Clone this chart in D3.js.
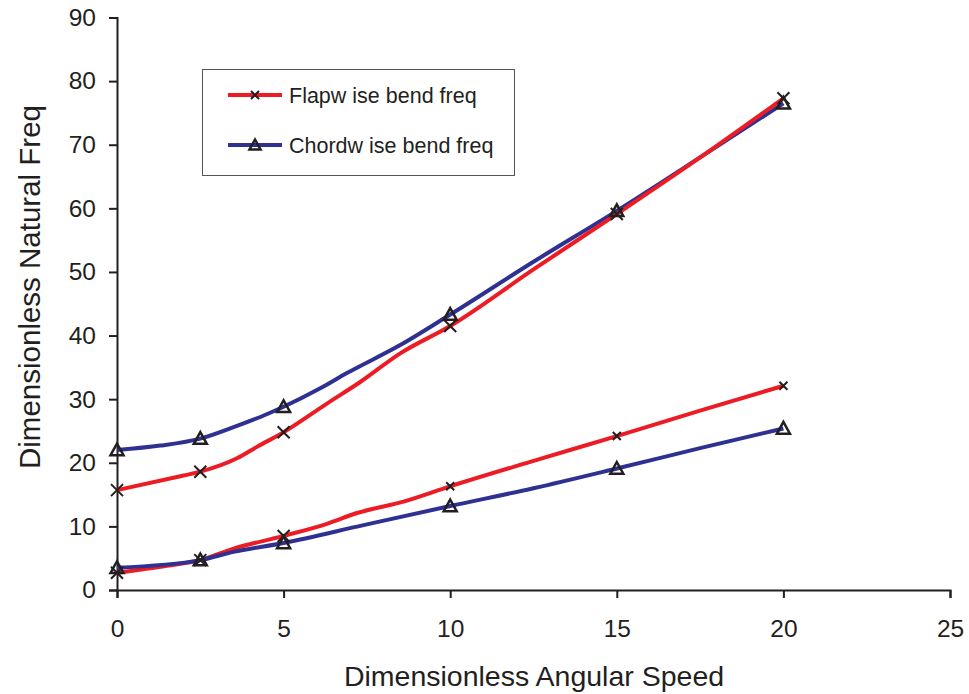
<!DOCTYPE html>
<html>
<head>
<meta charset="utf-8">
<script src="https://cdn.jsdelivr.net/npm/d3@7"></script>
<style>
  body { margin: 0; background: #fff; }
  svg { font-family: "Liberation Sans", Arial, sans-serif; }
</style>
</head>
<body>
<div id="chart"></div>
<script>
// marker positions
var markX = [0, 2.5, 5, 10, 15, 20];
var flapLow = [2.7, 4.7, 8.5, 16.3, 24.2, 32.1];
var flapHigh = [15.7, 18.6, 24.8, 41.5, 59.1, 77.3];
var chordLow = [3.5, 4.7, 7.4, 13.2, 19.1, 25.4];
var chordHigh = [22.0, 23.8, 28.8, 43.3, 59.6, 76.5];

// line points (incl. unmarked ones)
var flapLowX = [0, 1.5, 2.5, 3.5, 5, 6.3, 7.2, 8.6, 10, 12.5, 15, 17.5, 20];
var flapLowY = [2.7, 3.8, 4.7, 6.5, 8.5, 10.4, 12.1, 13.9, 16.3, 20.3, 24.2, 28.2, 32.1];
var flapHighX = [0, 2.0, 2.5, 3.6, 4.2, 5, 6.3, 7.3, 8.5, 10, 12.5, 15, 17.5, 20];
var flapHighY = [15.7, 18.0, 18.6, 20.7, 22.5, 24.8, 29.3, 32.7, 37.2, 41.5, 50.4, 59.1, 68.0, 77.3];
var chordLowX = [0, 2.5, 3.5, 5, 7.4, 10, 12.5, 15, 17.5, 20];
var chordLowY = [3.5, 4.7, 6.0, 7.4, 10.2, 13.2, 16.0, 19.1, 22.3, 25.4];
var chordHighX = [0, 1.3, 2.5, 3.6, 4.3, 5, 6.1, 6.9, 8.5, 10, 12.5, 15, 17.5, 20];
var chordHighY = [22.0, 22.7, 23.8, 25.8, 27.2, 28.8, 31.7, 34.1, 38.5, 43.3, 51.6, 59.6, 68.0, 76.5];

var xTicks = [0, 5, 10, 15, 20, 25];
var yTicks = [0, 10, 20, 30, 40, 50, 60, 70, 80, 90];
var legendNames = ["Flapw ise bend freq", "Chordw ise bend freq"];

var red = "#ed1c24", blue = "#2e3192";

var svg = d3.select("#chart").append("svg")
            .attr("width", 969)
            .attr("height", 694);

var x = d3.scaleLinear().domain([0, 25]).range([117, 950]);
var y = d3.scaleLinear().domain([0, 90]).range([590, 17.5]);

// axes
var xAxis = svg.append("g")
               .attr("transform", "translate(0,590)")
               .call(d3.axisBottom(x).tickValues(xTicks).tickSize(8).tickPadding(22));
var yAxis = svg.append("g")
               .attr("transform", "translate(117,0)")
               .call(d3.axisLeft(y).tickValues(yTicks).tickSize(8).tickPadding(13));
[xAxis, yAxis].forEach(function(a){
  a.select(".domain").attr("stroke", "#231f20").attr("stroke-width", 2);
  a.selectAll(".tick line").attr("stroke", "#231f20").attr("stroke-width", 2);
  a.selectAll(".tick text").attr("font-size", 24.5).attr("fill", "#231f20")
   .attr("font-family", "Liberation Sans, Arial, sans-serif");
});

svg.append("text")
   .attr("x", 534).attr("y", 686)
   .attr("text-anchor", "middle")
   .attr("font-size", 28.5).attr("fill", "#231f20")
   .text("Dimensionless Angular Speed");
svg.append("text")
   .attr("transform", "translate(40,287) rotate(-90)")
   .attr("text-anchor", "middle")
   .attr("font-size", 29.5).attr("fill", "#231f20")
   .text("Dimensionless Natural Freq");

var line = d3.line()
             .x(function(d){ return x(d[0]); })
             .y(function(d){ return y(d[1]); })
             .curve(d3.curveMonotoneX);

function zip(a, b){ return a.map(function(v, i){ return [v, b[i]]; }); }

var lines = [
  {pts: zip(flapLowX, flapLowY), color: red},
  {pts: zip(chordLowX, chordLowY), color: blue},
  {pts: zip(chordHighX, chordHighY), color: blue},
  {pts: zip(flapHighX, flapHighY), color: red}
];
lines.forEach(function(l){
  svg.append("path")
     .attr("d", line(l.pts))
     .attr("fill", "none")
     .attr("stroke", l.color)
     .attr("stroke-width", 4)
     .attr("stroke-linejoin", "round");
});

function cross(g, cx, cy, s){
  g.append("path")
   .attr("d", "M" + (cx - s) + "," + (cy - s) + "L" + (cx + s) + "," + (cy + s) +
              "M" + (cx - s) + "," + (cy + s) + "L" + (cx + s) + "," + (cy - s))
   .attr("stroke", "#231f20").attr("stroke-width", 2).attr("fill", "none");
}
function tri(g, cx, cy, s){
  g.append("path")
   .attr("d", "M" + cx + "," + (cy - s) + "L" + (cx + s) + "," + (cy + s * 0.8) +
              "L" + (cx - s) + "," + (cy + s * 0.8) + "Z")
   .attr("stroke", "#231f20").attr("stroke-width", 2.5).attr("fill", "none")
   .attr("stroke-linejoin", "miter");
}

var marks = svg.append("g");
markX.forEach(function(v, i){
  cross(marks, x(v), y(flapLow[i]), v >= 10 ? 4 : 6);
  cross(marks, x(v), y(flapHigh[i]), 6);
  tri(marks, x(v), y(chordLow[i]), 6.5);
  tri(marks, x(v), y(chordHigh[i]), 6.5);
});

// legend
var leg = svg.append("g");
leg.append("rect")
   .attr("x", 202.5).attr("y", 69.5)
   .attr("width", 312).attr("height", 106)
   .attr("fill", "#fff").attr("stroke", "#555").attr("stroke-width", 1);
[red, blue].forEach(function(c, i){
  var ly = 95 + i * 50;
  leg.append("line")
     .attr("x1", 228).attr("x2", 282).attr("y1", ly).attr("y2", ly)
     .attr("stroke", c).attr("stroke-width", 4);
  if (i == 0) cross(leg, 255, ly, 4);
  else tri(leg, 255, ly, 5.5);
  leg.append("text")
     .attr("x", 289).attr("y", ly + 7.5)
     .attr("font-size", 21.5).attr("fill", "#231f20")
     .text(legendNames[i]);
});
</script>
</body>
</html>
